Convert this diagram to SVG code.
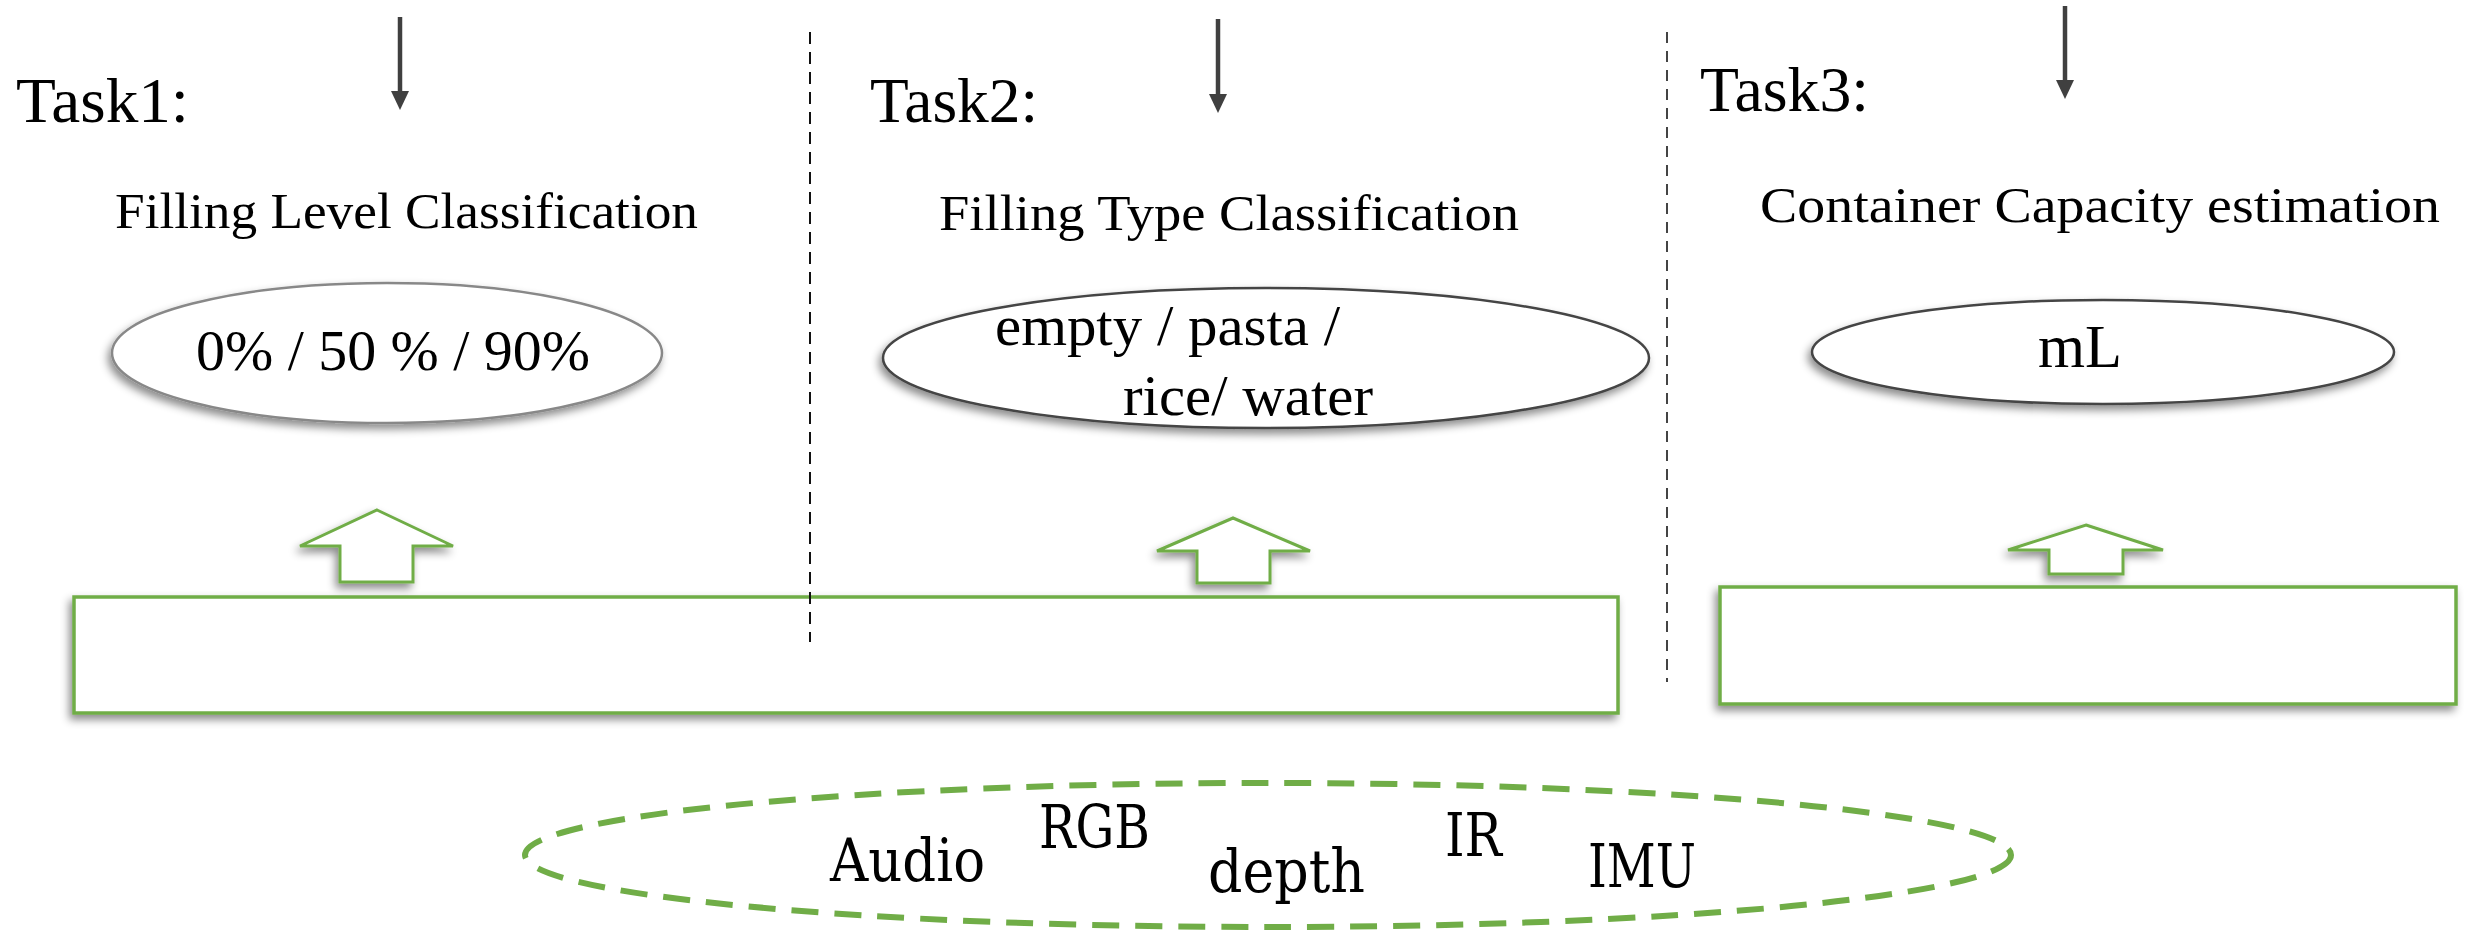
<svg xmlns="http://www.w3.org/2000/svg" width="2468" height="930" viewBox="0 0 2468 930">
<style>
  .t { font-family: "Liberation Serif", "Times New Roman", serif; fill: #000; }
  .task { font-size: 64px; }
  .sub { font-size: 51px; }
  .val { font-size: 56px; }
  .mod { font-family: "DejaVu Serif Condensed", "DejaVu Serif", serif; font-stretch: condensed; font-size: 60px; fill: #000; }
  .oval { fill: #fff; stroke-width: 2.5; }
  .gbox { fill: #fff; stroke: #70AD47; stroke-width: 3.5; }
  .garrow { fill: #fff; stroke: #70AD47; stroke-width: 3; stroke-linejoin: miter; }
  .darr { stroke: #404040; stroke-width: 4.5; fill: none; }
  .dhead { fill: #404040; }
</style>
<defs>
  <filter id="sh" x="-20%" y="-40%" width="140%" height="190%">
    <feDropShadow dx="-3" dy="5" stdDeviation="4" flood-color="#000" flood-opacity="0.45"/>
  </filter>
</defs>
<rect width="2468" height="930" fill="#fff"/>

<g id="connectors">
  <g id="down1"><line class="darr" x1="400" y1="17" x2="400" y2="94"/><polygon class="dhead" points="391,91 409,91 400,110"/></g>
  <g id="down2"><line class="darr" x1="1218" y1="19" x2="1218" y2="97"/><polygon class="dhead" points="1209,94 1227,94 1218,113"/></g>
  <g id="down3"><line class="darr" x1="2065" y1="6" x2="2065" y2="83"/><polygon class="dhead" points="2056,80 2074,80 2065,99"/></g>
  <polygon id="up1" class="garrow" filter="url(#sh)" points="377,510 453,546 413,546 413,582 340,582 340,546 300,546"/>
  <polygon id="up2" class="garrow" filter="url(#sh)" points="1233,518 1310,551 1270,551 1270,583 1197,583 1197,551 1157,551"/>
  <polygon id="up3" class="garrow" filter="url(#sh)" points="2086,525 2163,550 2123,550 2123,574 2049,574 2049,550 2008,550"/>
</g>

<g id="box1"><rect class="gbox" filter="url(#sh)" x="74" y="597" width="1544" height="116"/></g>
<g id="box3"><rect class="gbox" filter="url(#sh)" x="1720" y="587" width="736" height="117"/></g>

<g id="dividers">
  <line x1="810" y1="32" x2="810" y2="642" stroke="#111" stroke-width="2" stroke-dasharray="12 8"/>
  <line x1="1667" y1="32" x2="1667" y2="682" stroke="#444" stroke-width="2" stroke-dasharray="11 8"/>
</g>

<g id="task1">
  <text class="t task" x="16" y="122" textLength="173" lengthAdjust="spacingAndGlyphs">Task1:</text>
  <text class="t sub" x="115" y="228" textLength="583" lengthAdjust="spacingAndGlyphs">Filling Level Classification</text>
</g>
<g id="task2">
  <text class="t task" x="870" y="122" textLength="168" lengthAdjust="spacingAndGlyphs">Task2:</text>
  <text class="t sub" x="939" y="230" textLength="580" lengthAdjust="spacingAndGlyphs">Filling Type Classification</text>
</g>
<g id="task3">
  <text class="t task" x="1700" y="111" textLength="169" lengthAdjust="spacingAndGlyphs">Task3:</text>
  <text class="t sub" x="1760" y="222" textLength="680" lengthAdjust="spacingAndGlyphs">Container Capacity estimation</text>
</g>

<g id="oval1">
  <ellipse class="oval" stroke="#888" filter="url(#sh)" cx="387" cy="353" rx="275" ry="70"/>
  <text class="t val" x="196" y="370" textLength="394" lengthAdjust="spacingAndGlyphs">0% / 50 % / 90%</text>
</g>
<g id="oval2">
  <ellipse class="oval" stroke="#444" filter="url(#sh)" cx="1266" cy="358" rx="383" ry="70"/>
  <text class="t val" x="995" y="345" textLength="345" lengthAdjust="spacingAndGlyphs">empty / pasta /</text>
  <text class="t val" x="1123" y="415" textLength="250" lengthAdjust="spacingAndGlyphs">rice/ water</text>
</g>
<g id="oval3">
  <ellipse class="oval" stroke="#444" filter="url(#sh)" cx="2103" cy="352" rx="291" ry="52"/>
  <text class="t" style="font-size:62px" x="2038" y="367" textLength="84" lengthAdjust="spacingAndGlyphs">mL</text>
</g>

<g id="modalities">
  <ellipse cx="1268" cy="855" rx="743" ry="72" fill="none" stroke="#70AD47" stroke-width="6" stroke-dasharray="27 16"/>
  <text class="mod" x="830" y="881" textLength="155" lengthAdjust="spacingAndGlyphs">Audio</text>
  <text class="mod" x="1039" y="848" textLength="111" lengthAdjust="spacingAndGlyphs">RGB</text>
  <text class="mod" x="1208" y="892" textLength="157" lengthAdjust="spacingAndGlyphs">depth</text>
  <text class="mod" x="1445" y="856" textLength="57" lengthAdjust="spacingAndGlyphs">IR</text>
  <text class="mod" x="1588" y="887" textLength="108" lengthAdjust="spacingAndGlyphs">IMU</text>
</g>
</svg>
